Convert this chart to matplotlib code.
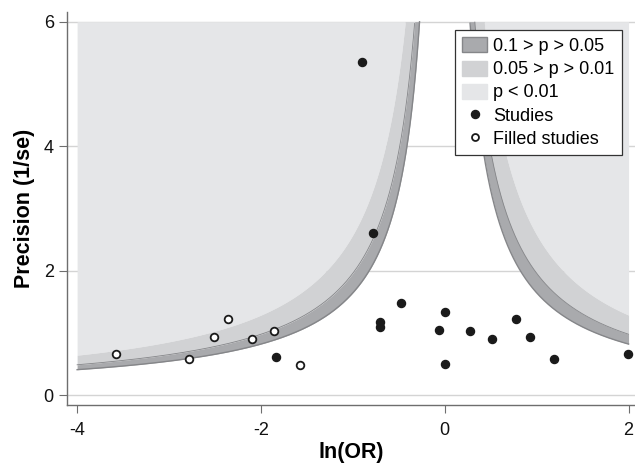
import numpy as np
import matplotlib
matplotlib.use("Agg")
import matplotlib.pyplot as plt
from matplotlib.patches import Patch
from matplotlib.lines import Line2D

plt.rcParams['font.family'] = ['Liberation Sans', 'DejaVu Sans']
plt.rcParams['axes.unicode_minus'] = False

# Observed studies: ln(OR) and precision (1/se)
study_lnor = [-0.90, -0.78, -1.84, -0.48, -0.70, -0.70, -0.06, 0.00, 0.00,
              0.28, 0.51, 0.77, 0.93, 1.19, 1.99]
study_prec = [5.35, 2.60, 0.62, 1.49, 1.17, 1.09, 1.05, 1.34, 0.50,
              1.04, 0.91, 1.22, 0.94, 0.59, 0.66]

# Filled (imputed) studies
filled_lnor = [-3.58, -2.78, -2.51, -2.355, -2.10, -1.86, -1.58]
filled_prec = [0.66, 0.59, 0.94, 1.22, 0.91, 1.04, 0.49]

# Contour z-values (two-sided p = 0.1, 0.05, 0.01)
z_p10, z_p05, z_p01 = 1.645, 1.96, 2.576
x_min, x_max, y_top = -4.0, 2.0, 6.0

legend_labels = ['0.1 > p > 0.05', '0.05 > p > 0.01', 'p < 0.01', 'Studies', 'Filled studies']

c_light = '#e5e6e8'
c_mid = '#d1d2d4'
c_dark = '#a9aaad'
c_edge = '#858689'

fig = plt.figure(figsize=(6.35, 4.66), dpi=100)
ax = fig.add_axes([67/635, (466-405)/466, (635-67)/635, (405-11.7)/466])

for ytick in [0, 2, 4, 6]:
    ax.axhline(ytick, color='#d4d4d4', lw=1.0, zorder=0)

for side in (np.linspace(x_min, -1e-4, 2000), np.linspace(1e-4, x_max, 1200)):
    a = np.abs(side)
    y01 = np.minimum(z_p01 / a, y_top)
    y05 = np.minimum(z_p05 / a, y_top)
    y10 = np.minimum(z_p10 / a, y_top)
    ax.fill_between(side, y01, y_top, color=c_light, lw=0, zorder=1)
    ax.fill_between(side, y05, y01, color=c_mid, lw=0, zorder=1)
    ax.fill_between(side, y10, y05, color=c_dark, lw=0, zorder=1)
    m10 = z_p10 / a <= y_top
    m05 = z_p05 / a <= y_top
    ax.plot(side[m10], (z_p10 / a)[m10], color=c_edge, lw=1.0, zorder=2)
    ax.plot(side[m05], (z_p05 / a)[m05], color=c_edge, lw=0.6, zorder=2)

ax.plot(study_lnor, study_prec, 'o', color='#1a1a1a', ms=5.8, mec='#1a1a1a', zorder=4)
ax.plot(filled_lnor, filled_prec, 'o', mfc='white', mec='#1a1a1a', mew=1.3, ms=5.5, zorder=4)

ax.set_xlim(-4.11, 2.07)
ax.set_ylim(-0.156, 6.16)
ax.set_xticks([-4, -2, 0, 2])
ax.set_yticks([0, 2, 4, 6])
for s in ['top', 'right']:
    ax.spines[s].set_visible(False)
for s in ['left', 'bottom']:
    ax.spines[s].set_color('#6e6e6e')
    ax.spines[s].set_linewidth(1.0)
ax.tick_params(direction='out', length=5.5, width=0.8, color='#6e6e6e',
               labelsize=13, labelcolor='#111111')
ax.tick_params(axis='x', pad=7)
ax.tick_params(axis='y', pad=4)
ax.set_xlabel('ln(OR)', fontsize=15.5, fontweight='bold', labelpad=2)
ax.set_ylabel('Precision (1/se)', fontsize=15.5, fontweight='bold', labelpad=6)

handles = [
    Patch(facecolor=c_dark, edgecolor=c_edge, lw=1.0),
    Patch(facecolor=c_mid, edgecolor=c_mid),
    Patch(facecolor=c_light, edgecolor=c_light),
    Line2D([], [], marker='o', ls='none', color='#1a1a1a', ms=5.8),
    Line2D([], [], marker='o', ls='none', mfc='white', mec='#1a1a1a', mew=1.3, ms=5.0),
]
leg = ax.legend(handles, legend_labels, loc='upper right', bbox_to_anchor=(0.977, 0.953),
                borderaxespad=0, fontsize=13, frameon=True, fancybox=False,
                edgecolor='#333333', framealpha=1, handlelength=1.38, handleheight=0.9,
                handletextpad=0.35, labelspacing=0.3, borderpad=0.4)
leg.get_frame().set_linewidth(0.9)
leg.set_zorder(5)

fig.savefig('out.png', dpi=100)
